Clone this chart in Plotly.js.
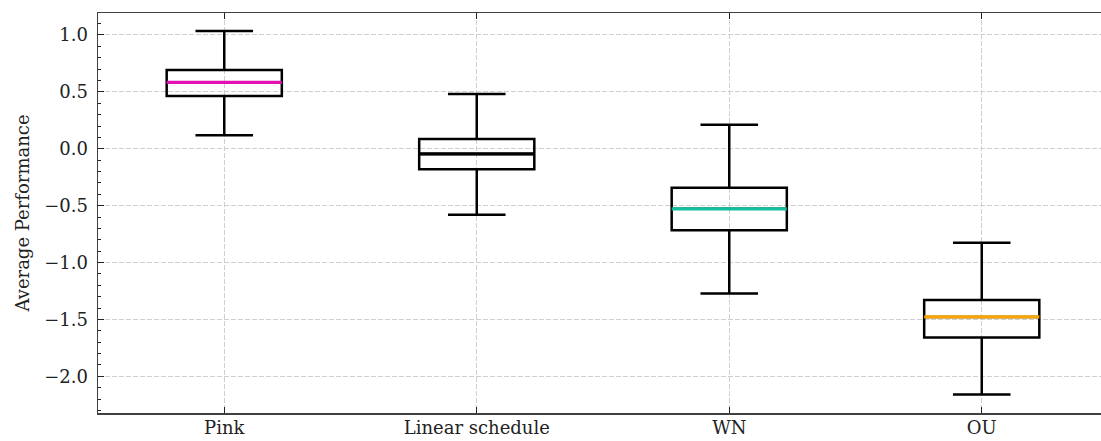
<!DOCTYPE html>
<html>
<head>
<meta charset="utf-8">
<script src="https://cdn.plot.ly/plotly-3.0.1.min.js"></script>
<style>
  html, body { margin: 0; padding: 0; overflow: hidden; background: #fff; }
  #chart { width: 1108px; height: 441px; }
</style>
</head>
<body>
<div id="chart"></div>
<script>
// Noise schedules and their performance distribution summaries
const categories = ['Pink', 'Linear schedule', 'WN', 'OU'];
const lowerWhisker = [0.118, -0.580, -1.272, -2.160];
const q1 = [0.463, -0.181, -0.715, -1.659];
const median = [0.584, -0.045, -0.528, -1.478];
const q3 = [0.692, 0.085, -0.343, -1.328];
const upperWhisker = [1.035, 0.481, 0.211, -0.827];
const medianColors = ['#e010b4', '#000000', '#14bf9f', '#f7a600'];

// y tick values and their labels (typographic minus)
const yTickValues = [-2.0, -1.5, -1.0, -0.5, 0.0, 0.5, 1.0];
const yTickLabels = yTickValues.map(v => (v < 0 ? '\u2212' : '') + Math.abs(v).toFixed(1));

const positions = categories.map((_, i) => i + 1);
const boxWidth = 0.456;
const fontFamily = 'DejaVu Serif, serif';
const fontSize = 18;
const textColor = '#222222';

const traces = [];
categories.forEach((name, i) => {
  traces.push({
    type: 'box',
    name: name,
    x: [positions[i]],
    q1: [q1[i]],
    median: [median[i]],
    q3: [q3[i]],
    lowerfence: [lowerWhisker[i]],
    upperfence: [upperWhisker[i]],
    width: boxWidth,
    whiskerwidth: 0.5,
    boxpoints: false,
    fillcolor: 'rgba(0,0,0,0)',
    line: { color: '#000000', width: 2.5 },
    hoverinfo: 'skip',
    showlegend: false
  });
});
// Coloured median lines drawn over each box
categories.forEach((name, i) => {
  traces.push({
    type: 'scatter',
    mode: 'lines',
    x: [positions[i] - boxWidth / 2, positions[i] + boxWidth / 2],
    y: [median[i], median[i]],
    line: { color: medianColors[i], width: 3.2 },
    hoverinfo: 'skip',
    showlegend: false
  });
});

const layout = {
  width: 1108,
  height: 441,
  margin: { l: 98, r: 0, t: 13, b: 28 },
  paper_bgcolor: '#ffffff',
  plot_bgcolor: '#ffffff',
  font: { family: fontFamily, size: fontSize, color: textColor },
  showlegend: false,
  xaxis: {
    range: [0.5, 4.5],
    tickmode: 'array',
    tickvals: positions,
    ticktext: categories,
    ticks: 'inside',
    ticklen: 6,
    tickwidth: 1,
    tickcolor: textColor,
    showline: true,
    linecolor: '#404040',
    linewidth: 1.5,
    mirror: 'ticks',
    showgrid: true,
    gridcolor: '#cfcfcf',
    griddash: '5px,2px',
    gridwidth: 1,
    zeroline: false,
    ticklabelstandoff: -2,
    tickfont: { family: fontFamily, size: fontSize, color: textColor }
  },
  yaxis: {
    range: [-2.322, 1.193],
    tickmode: 'array',
    tickvals: yTickValues,
    ticktext: yTickLabels,
    ticks: 'inside',
    ticklen: 6,
    tickwidth: 1,
    tickcolor: textColor,
    minor: { tickmode: 'linear', tick0: 0, dtick: 0.1, ticks: 'inside', ticklen: 3, tickwidth: 1, tickcolor: textColor, showgrid: false },
    showline: true,
    linecolor: '#404040',
    linewidth: 1.5,
    mirror: 'ticks',
    showgrid: true,
    gridcolor: '#cfcfcf',
    griddash: '5px,2px',
    gridwidth: 1,
    zeroline: false,
    ticklabelstandoff: 5,
    tickfont: { family: fontFamily, size: fontSize, color: textColor },
    title: { text: 'Average Performance', font: { family: fontFamily, size: fontSize, color: textColor }, standoff: 10 }
  }
};

Plotly.newPlot('chart', traces, layout, { displayModeBar: false, staticPlot: true });
</script>
</body>
</html>
